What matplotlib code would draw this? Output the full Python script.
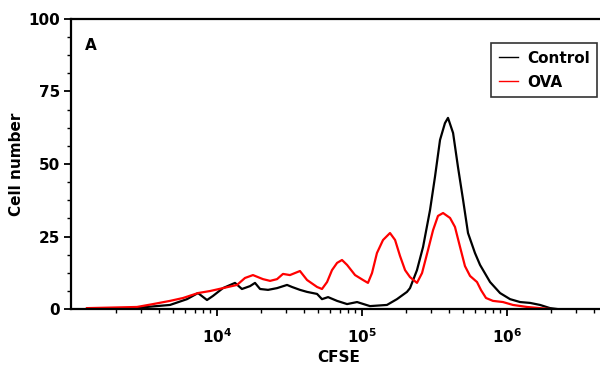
import numpy as np
from matplotlib import pyplot as plt
from matplotlib.ticker import FixedLocator, FixedFormatter, MultipleLocator

plt.rcParams['font.family'] = ['DejaVu Sans']
plt.rcParams['font.weight'] = 'bold'
plt.rcParams['mathtext.fontset'] = 'custom'
plt.rcParams['mathtext.rm'] = 'DejaVu Sans:bold'
plt.rcParams['mathtext.it'] = 'DejaVu Sans:bold'
plt.rcParams['mathtext.bf'] = 'DejaVu Sans:bold'

# histogram traces, CFSE given as log10 of fluorescence
control_log = [3.103, 3.421, 3.676, 3.793, 3.869, 3.931, 3.972, 4.041, 4.124, 4.172,
               4.228, 4.262, 4.297, 4.352, 4.414, 4.483, 4.517, 4.572, 4.621, 4.690,
               4.724, 4.766, 4.828, 4.897, 4.966, 5.055, 5.172, 5.241, 5.310, 5.331,
               5.379, 5.421, 5.469, 5.503, 5.538, 5.572, 5.593, 5.628, 5.662, 5.697,
               5.731, 5.779, 5.814, 5.883, 5.952, 6.021, 6.090, 6.159, 6.228, 6.297,
               6.345]
control_cells = [0.0, 0.3, 1.4, 3.4, 5.5, 3.1, 4.5, 7.2, 9.0, 6.9,
                 7.9, 9.0, 6.9, 6.6, 7.2, 8.3, 7.6, 6.6, 5.9, 5.2,
                 3.4, 4.1, 2.8, 1.7, 2.4, 1.0, 1.4, 3.4, 5.9, 7.2,
                 13.4, 21.4, 34.1, 45.5, 58.3, 64.1, 65.9, 60.7, 48.9, 37.6,
                 26.2, 19.3, 15.2, 9.3, 5.5, 3.4, 2.4, 2.1, 1.4, 0.3,
                 0.0]

ova_log = [3.103, 3.448, 3.559, 3.676, 3.766, 3.869, 3.952, 4.041, 4.138, 4.193,
           4.248, 4.317, 4.366, 4.414, 4.455, 4.503, 4.572, 4.621, 4.690, 4.724,
           4.759, 4.793, 4.828, 4.862, 4.897, 4.952, 5.007, 5.041, 5.069, 5.103,
           5.145, 5.193, 5.228, 5.262, 5.297, 5.331, 5.379, 5.414, 5.455, 5.490,
           5.524, 5.559, 5.607, 5.641, 5.676, 5.710, 5.745, 5.793, 5.821, 5.855,
           5.903, 5.972, 6.041, 6.138, 6.228, 6.297]
ova_cells = [0.3, 0.7, 1.7, 2.8, 3.8, 5.5, 6.2, 7.2, 8.3, 10.7,
             11.7, 10.3, 9.7, 10.3, 12.1, 11.7, 13.1, 10.0, 7.6, 6.9,
             9.3, 13.4, 15.9, 16.9, 15.2, 11.7, 10.0, 9.0, 12.4, 19.3,
             23.8, 26.2, 23.8, 18.3, 13.4, 11.0, 9.0, 12.4, 20.3, 27.2,
             32.1, 33.1, 31.4, 28.3, 21.4, 14.8, 11.4, 9.3, 6.5, 3.8,
             2.8, 2.4, 1.4, 0.7, 0.3, 0.0]

y_ticks = [0, 25, 50, 75, 100]
x_ticks = [1e4, 1e5, 1e6]
x_tick_labels = ['$10^{4}$', '$10^{5}$', '$10^{6}$']

fig = plt.figure(figsize=(6.0, 3.71), dpi=100)
ax = fig.add_axes([0.1183, 0.1671, 0.915, 0.7817])

ax.plot(10 ** np.array(control_log), control_cells, color='black', lw=1.6, label='Control')
ax.plot(10 ** np.array(ova_log), ova_cells, color='red', lw=1.6, label='OVA')

ax.set_xscale('log')
ax.set_xlim(10 ** 2.993, 10 ** 6.779)
ax.set_ylim(0, 100)

ax.xaxis.set_major_locator(FixedLocator(x_ticks))
ax.xaxis.set_major_formatter(FixedFormatter(x_tick_labels))
ax.yaxis.set_major_locator(FixedLocator(y_ticks))
ax.yaxis.set_minor_locator(MultipleLocator(6.25))

ax.tick_params(axis='both', which='major', direction='out', length=5, width=1.3,
               labelsize=11, colors='black')
ax.tick_params(axis='both', which='minor', direction='out', length=3, width=1.0)
ax.tick_params(axis='y', pad=3)
ax.tick_params(axis='x', pad=8)

for side in ['left', 'bottom', 'top']:
    ax.spines[side].set_linewidth(1.6)
ax.spines['right'].set_visible(False)

ax.set_xlabel('CFSE', fontsize=11, fontweight='bold')
ax.set_ylabel('Cell number', fontsize=11, fontweight='bold')
ax.xaxis.set_label_coords((339 - 71) / 549.0, -0.14)
ax.yaxis.set_label_coords(-0.086, 0.5)

ax.text(0.0255, 0.91, 'A', transform=ax.transAxes, fontsize=11, fontweight='bold',
        ha='left', va='center')

leg = ax.legend(loc='upper left', bbox_to_anchor=(491 / 600.0, 1 - 43 / 371.0),
                bbox_transform=fig.transFigure, fontsize=11, frameon=True,
                fancybox=False, borderaxespad=0, borderpad=0.5, handlelength=1.25,
                handletextpad=0.6, labelspacing=0.6)
leg.get_frame().set_edgecolor('black')
leg.get_frame().set_linewidth(1.2)
for line in leg.get_lines():
    line.set_linewidth(1.0)

fig.savefig('out.png', dpi=100)
